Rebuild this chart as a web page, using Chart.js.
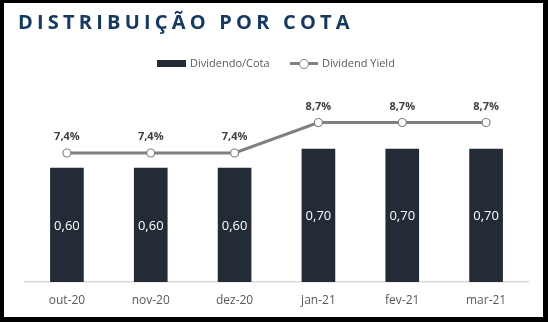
<!DOCTYPE html>
<html>
<head>
<meta charset="utf-8">
<script src="https://cdn.jsdelivr.net/npm/chart.js@4"></script>
<style>
  html, body { margin:0; padding:0; background:#000; }
  body { width:548px; height:322px; position:relative; overflow:hidden; font-family:"Open Sans", sans-serif; }
  #panel { position:absolute; left:4px; top:3px; width:539px; height:314px; background:#fff; }
  #title { position:absolute; left:18px; top:12px; font-size:20px; line-height:20px; font-weight:700; letter-spacing:4.2px; color:#163a60; white-space:nowrap; }
  #c { position:absolute; left:0; top:0; }
  .lg { position:absolute; font-size:11px; line-height:14px; color:#595959; white-space:nowrap; }
  #lgBar { position:absolute; left:157px; top:60px; width:29px; height:7px; background:#222b36; }
  #lgLine { position:absolute; left:290px; top:62px; width:28px; height:3px; background:#808080; }
  #lgDot { position:absolute; left:299px; top:58.5px; width:8px; height:8px; border-radius:50%; background:#fff; border:1.2px solid #808080; }
</style>
</head>
<body>
<div id="panel"></div>
<canvas id="c" width="548" height="322"></canvas>
<div id="title">DISTRIBUIÇÃO POR COTA</div>
<div id="lgBar"></div>
<div class="lg" id="lgT1" style="left:190px; top:56px;">Dividendo/Cota</div>
<div id="lgLine"></div>
<div id="lgDot"></div>
<div class="lg" id="lgT2" style="left:322px; top:56px;">Dividend Yield</div>
<script>
const categories = ["out-20", "nov-20", "dez-20", "jan-21", "fev-21", "mar-21"];
const dividendoCota = [0.60, 0.60, 0.60, 0.70, 0.70, 0.70];
const dividendYield = [7.4, 7.4, 7.4, 8.7, 8.7, 8.7];
const seriesNames = ["Dividendo/Cota", "Dividend Yield"];

const fmt = (v, d) => v.toFixed(d).replace(".", ",");

const labelPlugin = {
  id: "valueLabels",
  afterDatasetsDraw(chart) {
    const ctx = chart.ctx;
    ctx.save();
    ctx.textAlign = "center";
    ctx.textBaseline = "middle";
    const barMeta = chart.getDatasetMeta(1);
    ctx.font = "13px 'Open Sans'";
    ctx.fillStyle = "#ffffff";
    barMeta.data.forEach((bar, i) => {
      const y = (bar.y + bar.base) / 2;
      ctx.fillText(fmt(dividendoCota[i], 2), bar.x, y + 1);
    });
    const lineMeta = chart.getDatasetMeta(0);
    ctx.font = "bold 11px 'Open Sans'";
    ctx.fillStyle = "#404040";
    lineMeta.data.forEach((pt, i) => {
      ctx.fillText(fmt(dividendYield[i], 1) + "%", pt.x, pt.y - 16);
    });
    ctx.restore();
  }
};

new Chart(document.getElementById("c"), {
  type: "bar",
  data: {
    labels: categories,
    datasets: [
      {
        type: "line",
        label: seriesNames[1],
        data: dividendYield,
        yAxisID: "y1",
        borderColor: "#808080",
        borderWidth: 3,
        pointRadius: 4,
        pointBackgroundColor: "#ffffff",
        pointBorderColor: "#808080",
        pointBorderWidth: 1.2,
        tension: 0,
        order: 0
      },
      {
        type: "bar",
        label: seriesNames[0],
        data: dividendoCota,
        yAxisID: "y",
        backgroundColor: "#222b36",
        barThickness: 33,
        order: 1
      }
    ]
  },
  options: {
    responsive: false,
    animation: false,
    layout: { padding: { left: 25, right: 20, top: 92, bottom: 0 } },
    plugins: { legend: { display: false }, title: { display: false }, tooltip: { enabled: false } },
    scales: {
      x: {
        grid: { display: false, drawTicks: false },
        border: { display: true, color: "#d9d9d9", width: 1.5 },
        ticks: { color: "#595959", font: { family: "'Open Sans'", size: 12 }, padding: 11 },
        afterFit(scale) { scale.height = 40; }
      },
      y: { display: false, min: 0, max: 1.0 },
      y1: { display: false, min: 1.9, max: 10.0, position: "right" }
    }
  },
  plugins: [labelPlugin]
});
</script>
</body>
</html>
